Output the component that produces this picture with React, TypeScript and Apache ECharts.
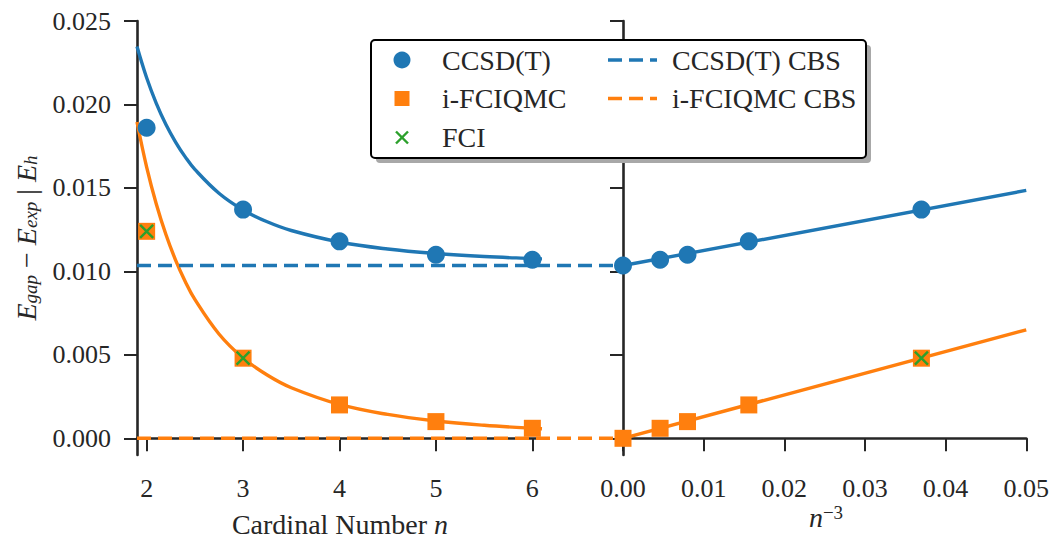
import React, { useEffect, useRef } from "react";
import * as echarts from "echarts";

// ---- data ----
const nValues = [2, 3, 4, 5, 6];
const ccsdtValues = [0.0186, 0.0137, 0.0118, 0.011, 0.0107];
const ifciqmcValues = [0.0124, 0.0048, 0.002, 0.001, 0.0006];
const fciN = [2, 3];
const fciValues = [0.0124, 0.0048];
const ccsdtCBS = 0.01035;
const ifciqmcCBS = 0.0;

// n^-3 for n = 3..6
const invN3 = [0.037, 0.0156, 0.008, 0.0046];
const fciInvN3 = [0.037];
const fciRightValues = [0.0048];

// fitted curves
const fitN = [1.9, 2, 2.1, 2.2, 2.3, 2.4, 2.5, 2.75, 3, 3.25, 3.5, 4, 4.5, 5, 5.5, 6, 6.1];
const ccsdtFit = [0.02347, 0.0216, 0.02007, 0.0188, 0.01775, 0.01686, 0.01611, 0.01468, 0.01368, 0.01297, 0.01245, 0.01176, 0.01134, 0.01107, 0.01089, 0.01077, 0.01075];
const ifciqmcFit = [0.01895, 0.01625, 0.01404, 0.01221, 0.01068, 0.0094, 0.00832, 0.00625, 0.00481, 0.00379, 0.00303, 0.00203, 0.00143, 0.00104, 0.00078, 0.0006, 0.00057];
const linX = [0, 0.05];
const ccsdtLin = [0.01035, 0.01485];
const ifciqmcLin = [0, 0.0065];

// axis ranges & ticks
const leftXRange = [1.9, 6.1];
const rightXRange = [0, 0.05];
const yRange = [-0.001, 0.025];
const leftXTicks = [2, 3, 4, 5, 6];
const yTicks = [0, 0.005, 0.01, 0.015, 0.02, 0.025];
// CBS reference lines run from the left panel's start to the right panel's zero
const cbsSpanX = [1.9, 6.94];

const BLUE = "#1f77b4";
const ORANGE = "#ff7f0e";
const GREEN = "#2ca02c";
const INK = "#262626";
const FONT = "Liberation Serif";
const XPATH = "path://M0 0L10 10M10 0L0 10";

const zip = (xs: number[], ys: number[]) => xs.map((x, i) => [x, ys[i]]);

const FONT_CSS = `.chart-root svg text, .chart-root svg tspan { font-family: "Liberation Serif", "Times New Roman", serif !important; }`;

export default function App() {
  const ref = useRef<HTMLDivElement>(null);
  useEffect(() => {
    if (!ref.current) return;
    const chart = echarts.init(ref.current, undefined, { renderer: "svg" });

    const axisLine = { show: true, lineStyle: { color: INK, width: 2.6 } };
    const tickStyle = { color: INK, width: 2 };

    const lineSeries = (name: string, xi: number, data: number[][], color: string, dashed = false) => ({
      name,
      type: "line",
      xAxisIndex: xi,
      yAxisIndex: xi,
      data,
      showSymbol: false,
      symbol: "none",
      lineStyle: { color, width: 3.4, type: dashed ? [14, 7] : "solid" },
      silent: true,
      z: 2,
    });
    const scatter = (name: string, xi: number, data: number[][], symbol: string, size: number, item: any, z = 3) => ({
      name,
      type: "scatter",
      xAxisIndex: xi,
      yAxisIndex: xi,
      data,
      symbol,
      symbolSize: size,
      itemStyle: { opacity: 1, ...item },
      z,
    });
    const hidden = { show: false };

    const option: any = {
      animation: false,
      textStyle: { fontFamily: FONT },
      grid: [
        { left: 137, top: 21, width: 405, height: 434 },
        { left: 623, top: 21, width: 406, height: 434 },
        { left: 137, top: 21, width: 486, height: 434 },
      ],
      xAxis: [
        {
          type: "value",
          gridIndex: 0,
          min: leftXRange[0],
          max: leftXRange[1],
          axisLine,
          axisTick: { show: true, customValues: leftXTicks, length: 13, lineStyle: tickStyle },
          axisLabel: { customValues: leftXTicks, fontSize: 26, fontFamily: FONT, color: INK, margin: 20 },
          splitLine: { show: false },
        },
        {
          type: "value",
          gridIndex: 1,
          min: rightXRange[0],
          max: rightXRange[1],
          interval: 0.01,
          axisLine,
          axisTick: { show: true, length: 13, lineStyle: tickStyle },
          axisLabel: {
            fontSize: 26,
            fontFamily: FONT,
            color: INK,
            margin: 20,
            formatter: (v: number) => v.toFixed(2),
          },
          splitLine: { show: false },
        },
        {
          type: "value",
          gridIndex: 2,
          min: cbsSpanX[0],
          max: cbsSpanX[1],
          axisLine: hidden,
          axisTick: hidden,
          axisLabel: hidden,
          splitLine: hidden,
        },
      ],
      yAxis: [
        {
          type: "value",
          gridIndex: 0,
          min: yRange[0],
          max: yRange[1],
          axisLine,
          axisTick: { show: true, customValues: yTicks, length: 13, lineStyle: tickStyle },
          axisLabel: {
            customValues: yTicks,
            fontSize: 26,
            fontFamily: FONT,
            color: INK,
            margin: 26,
            formatter: (v: number) => v.toFixed(3),
          },
          splitLine: { show: false },
        },
        {
          type: "value",
          gridIndex: 1,
          min: yRange[0],
          max: yRange[1],
          axisLine,
          axisTick: { show: true, customValues: yTicks, length: 13, lineStyle: tickStyle },
          axisLabel: { show: false },
          splitLine: { show: false },
        },
        {
          type: "value",
          gridIndex: 2,
          min: yRange[0],
          max: yRange[1],
          axisLine: hidden,
          axisTick: hidden,
          axisLabel: hidden,
          splitLine: hidden,
        },
      ],
      series: [
        { ...lineSeries("CCSD(T) fit", 0, zip(fitN, ccsdtFit), BLUE), smooth: 0.4 },
        { ...lineSeries("i-FCIQMC fit", 0, zip(fitN, ifciqmcFit), ORANGE), smooth: 0.4 },
        lineSeries("CCSD(T) CBS", 2, zip(cbsSpanX, [ccsdtCBS, ccsdtCBS]), BLUE, true),
        lineSeries("i-FCIQMC CBS", 2, zip(cbsSpanX, [ifciqmcCBS, ifciqmcCBS]), ORANGE, true),
        lineSeries("CCSD(T) lin", 1, zip(linX, ccsdtLin), BLUE),
        lineSeries("i-FCIQMC lin", 1, zip(linX, ifciqmcLin), ORANGE),
        scatter("CCSD(T)", 0, zip(nValues, ccsdtValues), "circle", 18, { color: BLUE }),
        scatter("i-FCIQMC", 0, zip(nValues, ifciqmcValues), "rect", 17, { color: ORANGE }),
        scatter("FCI", 0, zip(fciN, fciValues), XPATH, 13, { color: "transparent", borderColor: GREEN, borderWidth: 2.4 }, 4),
        scatter("CCSD(T) R", 1, [[0, ccsdtCBS], ...zip(invN3, ccsdtValues.slice(1))], "circle", 18, { color: BLUE }),
        scatter("i-FCIQMC R", 1, [[0, ifciqmcCBS], ...zip(invN3, ifciqmcValues.slice(1))], "rect", 17, { color: ORANGE }),
        scatter("FCI R", 1, zip(fciInvN3, fciRightValues), XPATH, 13, { color: "transparent", borderColor: GREEN, borderWidth: 2.4 }, 4),
      ],
      graphic: [
        // legend shadow & box
        { type: "rect", shape: { x: 376, y: 45, width: 495, height: 118, r: 4 }, style: { fill: "#a8a8a8" }, z: 10 },
        { type: "rect", shape: { x: 371, y: 40, width: 495, height: 118, r: 4 }, style: { fill: "#fff", stroke: "#000", lineWidth: 2 }, z: 11 },
        { type: "circle", shape: { cx: 402, cy: 60, r: 8.5 }, style: { fill: BLUE }, z: 12 },
        { type: "rect", shape: { x: 394.5, y: 91, width: 15, height: 15 }, style: { fill: ORANGE }, z: 12 },
        { type: "line", shape: { x1: 396, y1: 131.5, x2: 408, y2: 143.5 }, style: { stroke: GREEN, lineWidth: 2.4 }, z: 12 },
        { type: "line", shape: { x1: 408, y1: 131.5, x2: 396, y2: 143.5 }, style: { stroke: GREEN, lineWidth: 2.4 }, z: 12 },
        { type: "line", shape: { x1: 608, y1: 60, x2: 657, y2: 60 }, style: { stroke: BLUE, lineWidth: 3.4, lineDash: [14, 7] }, z: 12 },
        { type: "line", shape: { x1: 608, y1: 98.5, x2: 657, y2: 98.5 }, style: { stroke: ORANGE, lineWidth: 3.4, lineDash: [14, 7] }, z: 12 },
        ...[
          ["CCSD(T)", 442, 60],
          ["i-FCIQMC", 442, 98.5],
          ["FCI", 442, 137.5],
          ["CCSD(T) CBS", 672, 60],
          ["i-FCIQMC CBS", 672, 98.5],
        ].map(([t, x, y]) => ({
          type: "text",
          x,
          y,
          z: 12,
          style: { text: t, fontSize: 28, fontFamily: FONT, fill: INK, align: "left", verticalAlign: "middle" },
        })),
        // axis titles
        {
          type: "text",
          x: 340,
          y: 524,
          style: {
            text: "Cardinal Number {i|n}",
            fontSize: 28,
            fontFamily: FONT,
            fill: INK,
            align: "center",
            verticalAlign: "middle",
            rich: { i: { fontSize: 28, fontFamily: FONT, fontStyle: "italic", fill: INK } },
          },
        },
        {
          type: "text",
          x: 826,
          y: 523,
          style: {
            text: "{m|n}{s|−3}",
            fontSize: 28,
            fontFamily: FONT,
            fill: INK,
            align: "center",
            verticalAlign: "middle",
            rich: {
              m: { fontSize: 28, fontFamily: FONT, fontStyle: "italic", fill: INK, lineHeight: 40, verticalAlign: "top" },
              s: { fontSize: 19, fontFamily: FONT, fill: INK, lineHeight: 19, verticalAlign: "top" },
            },
          },
        },
        {
          type: "text",
          x: 26,
          y: 238,
          rotation: Math.PI / 2,
          style: {
            text: "{e|E}{s|gap}{o| − }{e|E}{s|exp}{o| | }{e|E}{s|h}",
            fontSize: 28,
            fontFamily: FONT,
            fill: INK,
            align: "center",
            verticalAlign: "middle",
            rich: {
              e: { fontSize: 28, fontFamily: FONT, fontStyle: "italic", fill: INK, lineHeight: 28, verticalAlign: "top" },
              s: { fontSize: 19, fontFamily: FONT, fontStyle: "italic", fill: INK, lineHeight: 19, verticalAlign: "bottom" },
              o: { fontSize: 28, fontFamily: FONT, fill: INK, lineHeight: 28, verticalAlign: "top" },
            },
          },
        },
      ],
    };
    chart.setOption(option);
    return () => chart.dispose();
  }, []);
  return (
    <>
      <style>{FONT_CSS}</style>
      <div
        ref={ref}
        className="chart-root"
        style={{ position: "fixed", left: 0, top: 0, width: 1052, height: 538, background: "#fff" }}
      />
    </>
  );
}
